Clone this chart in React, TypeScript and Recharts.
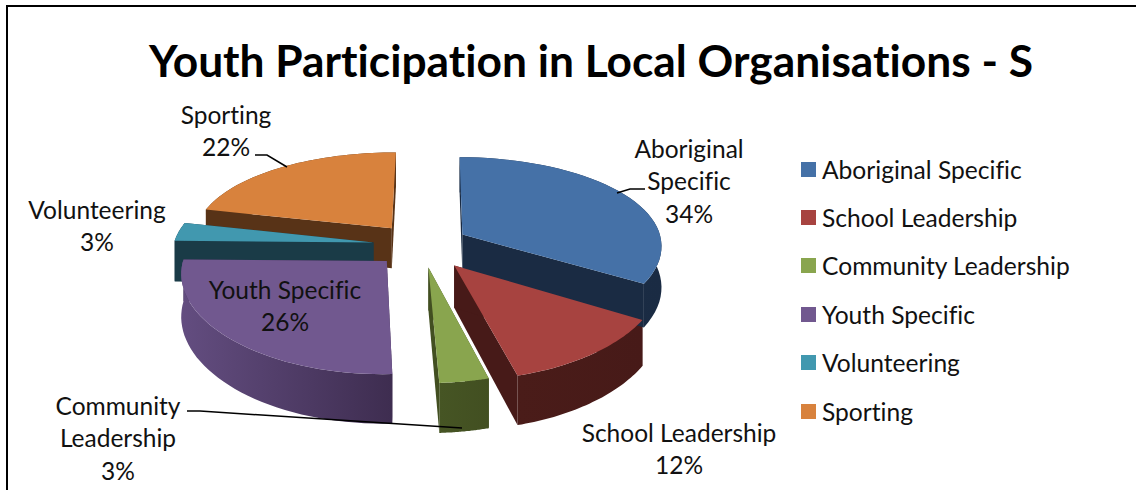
import { PieChart, Pie, Legend } from 'recharts'

const categories = ['Aboriginal Specific', 'School Leadership', 'Community Leadership', 'Youth Specific', 'Volunteering', 'Sporting']
const shares = [33.55, 12.2, 3.47, 25.97, 3.28, 21.55]
const topColors = ['#4571a7', '#a74340', '#89a54e', '#71588f', '#4198af', '#d8823d']
const wallColors = [
  ['#1b2e49', '#1a2b43'],
  ['#4a1c19', '#471a18'],
  ['#465524', '#424f21'],
  ['#634d80', '#3e2d50'],
  ['#1a3b47', '#1a3b47'],
  ['#583317', '#583317'],
]
const explosions = [0.24, 0.27, 0.24, 0.24, 0.24, 0.24]

const rows = categories.map((name, i) => ({ name, value: shares[i] }))
// the walls have to be painted back to front, so that pie runs the other way round
const rowsReversed = [...rows].reverse()

// hand placed data labels, as in the original
const labelSpots: Record<string, { x: number; y: number; lines: string[]; leader?: number[][] }> = {
  'Aboriginal Specific': { x: 689, y: 148, lines: ['Aboriginal', 'Specific'], leader: [[617, 193], [630, 189], [645, 189]] },
  'School Leadership': { x: 679, y: 432, lines: ['School Leadership'] },
  'Community Leadership': { x: 118, y: 405, lines: ['Community', 'Leadership'], leader: [[187, 411], [200, 411], [462, 428]] },
  'Youth Specific': { x: 285, y: 289, lines: ['Youth Specific'] },
  Volunteering: { x: 97, y: 209, lines: ['Volunteering'] },
  Sporting: { x: 226, y: 114, lines: ['Sporting'], leader: [[255, 155], [267, 155], [287, 167]] },
}

const FONT = 'Lato, sans-serif'
const SQUASH = 0.457
const PERSPECTIVE_X = 0.11
const PERSPECTIVE_Y = 0.146
const DEPTH = 41
const RAD = Math.PI / 180
const FIRST_ANGLE = 89.6

function sliceGeometry(props: any, explode: number) {
  const { cx, cy, outerRadius: r, startAngle, endAngle } = props
  const mid = (startAngle + endAngle) / 2
  const point = (angle: number, rho: number, h: number) => {
    const u = rho * Math.cos(angle * RAD) + explode * Math.cos(mid * RAD)
    const v = -rho * Math.sin(angle * RAD) - explode * Math.sin(mid * RAD)
    const sx = 1 / (1 - PERSPECTIVE_X * v)
    const sy = 1 / (1 - PERSPECTIVE_Y * v)
    return [cx + u * r * sx, cy + v * r * SQUASH * sy + h * sy]
  }
  const steps = 40
  const arc = (h: number) =>
    Array.from({ length: steps + 1 }, (_, i) => point(startAngle + ((endAngle - startAngle) * i) / steps, 1, h))
  return { point, arc, startAngle, endAngle }
}

const toPath = (pts: number[][]) => 'M' + pts.map((p) => `${p[0].toFixed(1)},${p[1].toFixed(1)}`).join('L') + 'Z'

function WallShape(props: any) {
  const i = categories.indexOf(props.name ?? props.payload?.name)
  const { point, arc, startAngle, endAngle } = sliceGeometry(props, explosions[i])
  const cut = (angle: number) => [point(angle, 0, 0), point(angle, 1, 0), point(angle, 1, DEPTH), point(angle, 0, DEPTH)]
  const [left, right] = wallColors[i]
  return (
    <g>
      <defs>
        <linearGradient id={`wall${i}`} x1="0" x2="1" y1="0" y2="0">
          <stop offset="0" stopColor={left} />
          <stop offset="1" stopColor={right} />
        </linearGradient>
      </defs>
      <path d={toPath(cut(startAngle))} fill={right} />
      <path d={toPath(cut(endAngle))} fill={right} />
      <path d={toPath([...arc(0), ...arc(DEPTH).reverse()])} fill={`url(#wall${i})`} />
    </g>
  )
}

function TopShape(props: any) {
  const i = categories.indexOf(props.name ?? props.payload?.name)
  const { point, arc, startAngle } = sliceGeometry(props, explosions[i])
  return <path d={toPath([point(startAngle, 0, 0), ...arc(0)])} fill={topColors[i]} />
}

function renderLabel(props: any) {
  const spot = labelSpots[props.name ?? props.payload?.name]
  if (!spot) return null
  const lines = [...spot.lines, `${Math.round(props.percent * 100)}%`]
  return (
    <g>
      {spot.leader && (
        <polyline points={spot.leader.map((p) => p.join(',')).join(' ')} fill="none" stroke="#000" strokeWidth={1.5} />
      )}
      {lines.map((line, k) => (
        <text key={k} x={spot.x} y={spot.y + k * 32.5} textAnchor="middle" dominantBaseline="central" fontFamily={FONT} fontSize={24.5} fill="#111" style={{ fontVariantLigatures: 'none' }}>
          {line}
        </text>
      ))}
    </g>
  )
}

function LegendList() {
  return (
    <div style={{ fontFamily: FONT, fontSize: 24.6, color: '#111', fontVariantLigatures: 'none' }}>
      {categories.map((name, i) => (
        <div key={name} style={{ display: 'flex', alignItems: 'center', height: 48.4, whiteSpace: 'nowrap' }}>
          <span style={{ width: 15, height: 15, background: topColors[i], marginRight: 6 }} />
          {name}
        </div>
      ))}
    </div>
  )
}

export default function App() {
  return (
    <div style={{ position: 'absolute', left: 0, top: 0, width: 1136, height: 490, background: '#fff', overflow: 'hidden' }}>
      <div style={{ position: 'absolute', left: 6, top: 5, width: 1140, height: 500, border: '2px solid #000', boxSizing: 'border-box' }} />
      <PieChart width={1136} height={490} margin={{ top: 0, right: 0, bottom: 0, left: 0 }}>
        <text x={591} y={59} textAnchor="middle" dominantBaseline="central" fontFamily={FONT} fontWeight={700} fontSize={44.3} fill="#000" style={{ fontVariantLigatures: 'none' }}>
          Youth Participation in Local Organisations - S
        </text>
        <Pie
          data={rowsReversed}
          dataKey="value"
          nameKey="name"
          cx={421}
          cy={245}
          outerRadius={200}
          startAngle={FIRST_ANGLE}
          endAngle={FIRST_ANGLE + 360}
          stroke="none"
          shape={WallShape}
          inactiveShape={WallShape}
          label={false}
          labelLine={false}
          isAnimationActive={false}
          legendType="none"
        />
        <Pie
          data={rows}
          dataKey="value"
          nameKey="name"
          cx={421}
          cy={245}
          outerRadius={200}
          startAngle={FIRST_ANGLE}
          endAngle={FIRST_ANGLE - 360}
          stroke="none"
          shape={TopShape}
          inactiveShape={TopShape}
          label={renderLabel}
          labelLine={false}
          isAnimationActive={false}
          legendType="none"
        />
        <Legend
          layout="vertical"
          content={() => <LegendList />}
          wrapperStyle={{ position: 'absolute', left: 801, top: 145, width: 330 }}
        />
      </PieChart>
    </div>
  )
}
